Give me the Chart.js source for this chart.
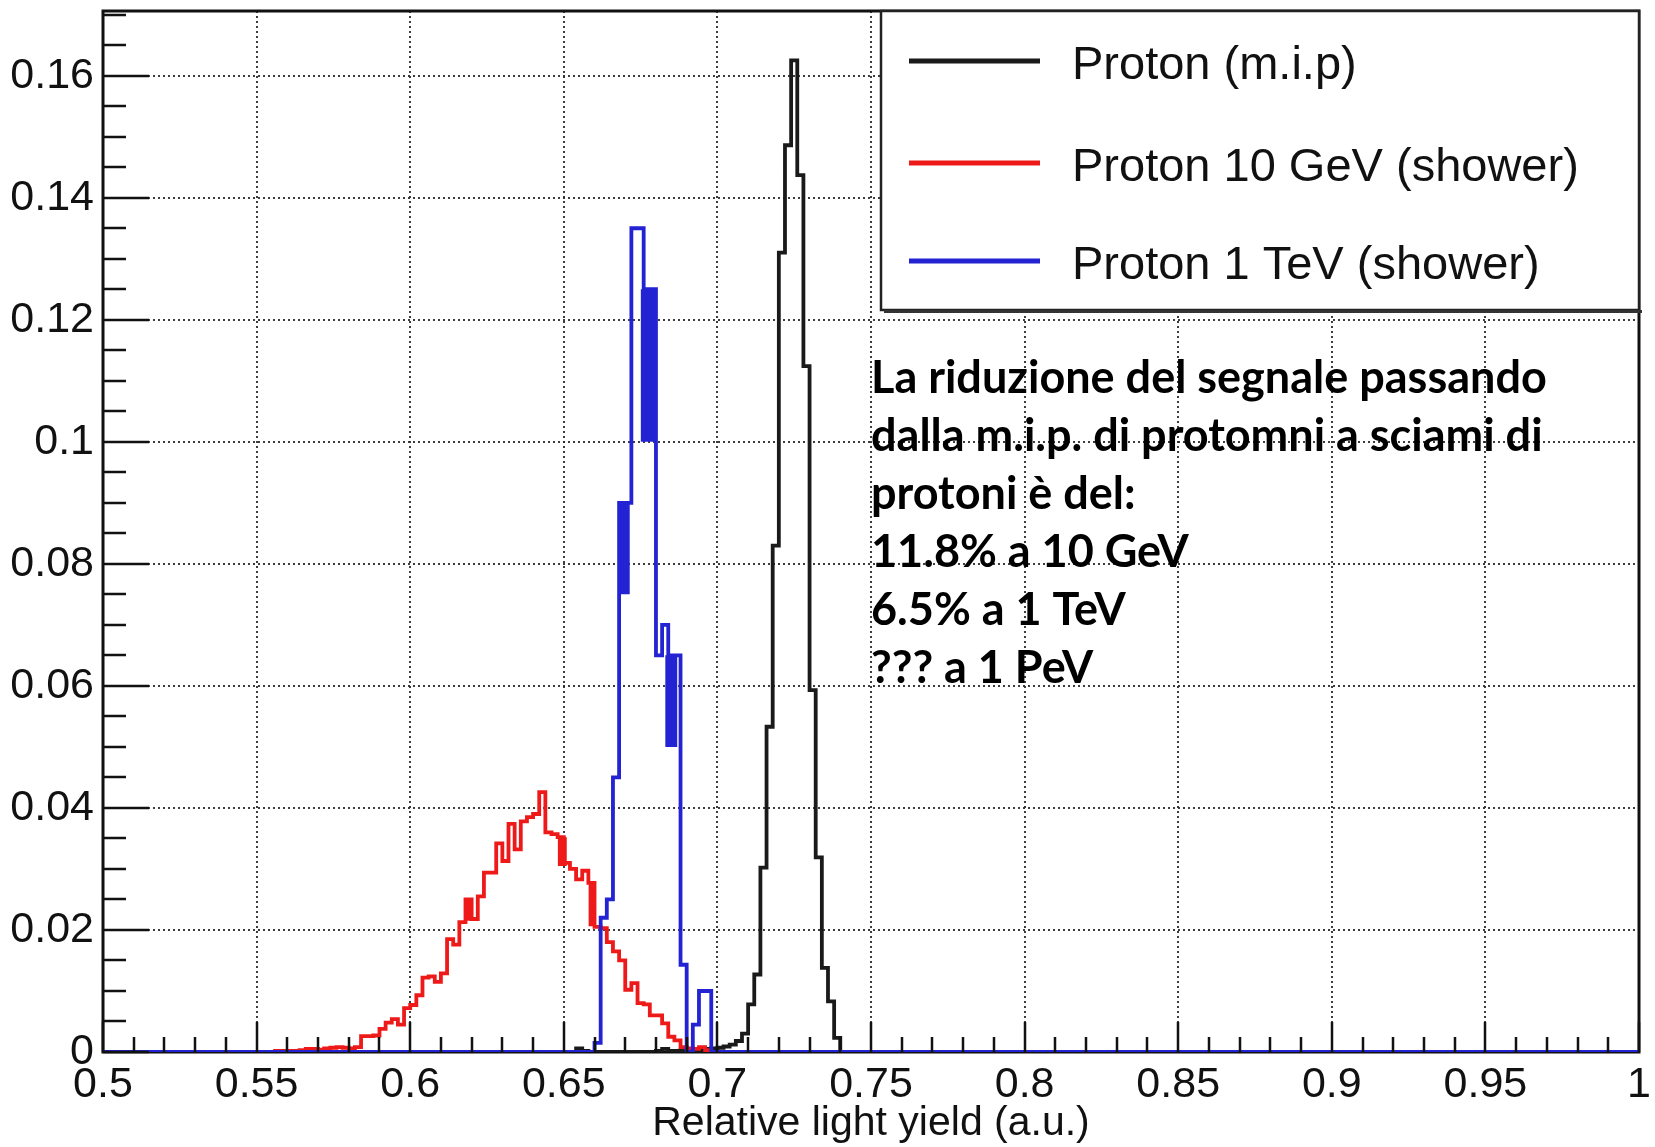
<!DOCTYPE html>
<html lang="it">
<head>
<meta charset="UTF-8">
<title>Relative light yield</title>
<script src="https://cdn.jsdelivr.net/npm/chart.js@4.4.1/dist/chart.umd.min.js"></script>
<style>
html, body { margin: 0; padding: 0; background: #fff; }
#lightYield { display: block; }
</style>
</head>
<body>
<canvas id="lightYield" width="1655" height="1147"></canvas>
<script>
// all three histograms share the same binning
var binWidth = 0.002;
var xMin = 0.5, xMax = 1.0;
var yMin = 0, yMax = 0.1706;

// proton m.i.p., first bin starts at 0.654
var mipStart = 0.654;
var mipValues = [
  0.0006, 0.0002, 0, 0, 0, 0, 0, 0, 0, 0, 0, 0, 0,
  0.0002, 0.0005, 0.0002, 0.0002, 0.0003, 0.0002, 0.0003, 0.0004, 0.0005, 0.0006,
  0.0007, 0.0009, 0.0012, 0.0018, 0.0030, 0.0078, 0.0127, 0.0302, 0.0533, 0.0830,
  0.1310, 0.1486, 0.1625, 0.1437, 0.1124, 0.0593, 0.0319, 0.0138, 0.0083, 0.0023
];

// proton 10 GeV shower, first bin starts at 0.556
var gev10Start = 0.556;
var gev10Values = [
  0.0002, 0.0002, 0.0002, 0.0002, 0.0003, 0.0005, 0.0005, 0.0004, 0.0006, 0.0007,
  0.0008, 0.0007, 0.0006, 0.0008, 0.0026, 0.0026, 0.0027, 0.0038, 0.0048, 0.0054,
  0.0045, 0.0072, 0.0077, 0.0093, 0.0122, 0.0124, 0.0115, 0.0129, 0.0185, 0.0176,
  0.0213, 0.0250, 0.0218, 0.0255, 0.0294, 0.0294, 0.0342, 0.0313, 0.0374, 0.0332,
  0.0378, 0.0385, 0.0390, 0.0426, 0.0360, 0.0357, 0.0352, 0.0310, 0.0300, 0.0283,
  0.0297, 0.0277, 0.0205, 0.0203, 0.0180, 0.0165, 0.0150, 0.0102, 0.0113, 0.0080,
  0.0078, 0.0060, 0.0060, 0.0047, 0.0025, 0.0019, 0.0008, 0.0006, 0.0005, 0.0008,
  0.0003
];

// proton 1 TeV shower, first bin starts at 0.660
var tev1Start = 0.660;
var tev1Values = [
  0.0015, 0.022, 0.025, 0.045, 0.090, 0.090, 0.135, 0.135, 0.125, 0.125,
  0.065, 0.070, 0.065, 0.065, 0.0143, 0, 0.0045, 0.010, 0.010
];

// dense filled stretches of the outlines: [from, to, low, high]
var gev10Blocks = [
  [0.618, 0.620, 0.0215, 0.0250],
  [0.648, 0.651, 0.0305, 0.0352],
  [0.658, 0.660, 0.0206, 0.0277]
];
var tev1Blocks = [
  [0.668, 0.6715, 0.075, 0.090],
  [0.675, 0.680, 0.1000, 0.125],
  [0.683, 0.687, 0.050, 0.065]
];

var seriesLabels = ['Proton (m.i.p)', 'Proton 10 GeV (shower)', 'Proton 1 TeV (shower)'];
var seriesColors = ['#1a1a1a', '#ee1a1a', '#2323d4'];

var xTicks = [0.5, 0.55, 0.6, 0.65, 0.7, 0.75, 0.8, 0.85, 0.9, 0.95, 1];
var xTickLabels = ['0.5', '0.55', '0.6', '0.65', '0.7', '0.75', '0.8', '0.85', '0.9', '0.95', '1'];
var yTicks = [0, 0.02, 0.04, 0.06, 0.08, 0.1, 0.12, 0.14, 0.16];
var yTickLabels = ['0', '0.02', '0.04', '0.06', '0.08', '0.1', '0.12', '0.14', '0.16'];
var xMinorStep = 0.01;
var yMinorStep = 0.005;
var xTitle = 'Relative light yield (a.u.)';

var noteLines = [
  'La riduzione del segnale passando',
  'dalla m.i.p. di protomni a sciami di',
  'protoni è del:',
  '11.8% a 10 GeV',
  '6.5% a 1 TeV',
  '??? a 1 PeV'
];

// turn bins into step points running over the whole x range
function histogramPoints(start, values) {
  var pts = [{x: xMin, y: 0}];
  for (var i = 0; i < values.length; i++) {
    pts.push({x: start + i * binWidth, y: values[i]});
  }
  pts.push({x: start + values.length * binWidth, y: 0});
  pts.push({x: xMax, y: 0});
  return pts;
}

var datasets = [];

function addHistogram(label, start, values, color, order) {
  datasets.push({
    label: label,
    data: histogramPoints(start, values),
    borderColor: color,
    borderWidth: 3.8,
    stepped: true,
    fill: false,
    pointRadius: 0,
    borderJoinStyle: 'miter',
    order: order
  });
}

// each block is a low edge plus a high edge filled down to it
function addBlocks(blocks, color, order) {
  blocks.forEach(function (b) {
    datasets.push({
      data: [{x: b[0], y: b[2]}, {x: b[1], y: b[2]}],
      borderColor: 'rgba(0,0,0,0)', borderWidth: 1, pointRadius: 0, fill: false, order: order
    });
    datasets.push({
      data: [{x: b[0], y: b[3]}, {x: b[1], y: b[3]}],
      borderColor: 'rgba(0,0,0,0)', borderWidth: 1, pointRadius: 0,
      fill: '-1', backgroundColor: color, order: order
    });
  });
}

addHistogram(seriesLabels[0], mipStart, mipValues, seriesColors[0], 4);
addHistogram(seriesLabels[1], gev10Start, gev10Values, seriesColors[1], 2);
addBlocks(gev10Blocks, seriesColors[1], 3);
addHistogram(seriesLabels[2], tev1Start, tev1Values, seriesColors[2], 0);
addBlocks(tev1Blocks, seriesColors[2], 1);

// frame, dotted grid, inward ticks, legend box and note text
var rootFrame = {
  id: 'rootFrame',
  beforeDatasetsDraw: function (chart) {
    var ctx = chart.ctx, a = chart.chartArea;
    var xs = chart.scales.x, ys = chart.scales.y;
    ctx.save();
    ctx.strokeStyle = 'rgba(40,40,40,0.9)';
    ctx.lineWidth = 2;
    ctx.setLineDash([2, 3]);
    xTicks.forEach(function (v) {
      if (v <= xMin || v >= xMax) return;
      var px = Math.round(xs.getPixelForValue(v));
      ctx.beginPath();
      ctx.moveTo(px, a.top);
      ctx.lineTo(px, a.bottom);
      ctx.stroke();
    });
    yTicks.forEach(function (v) {
      if (v <= yMin) return;
      var py = Math.round(ys.getPixelForValue(v));
      ctx.beginPath();
      ctx.moveTo(a.left, py);
      ctx.lineTo(a.right, py);
      ctx.stroke();
    });
    ctx.setLineDash([]);
    ctx.strokeStyle = '#111';
    ctx.lineWidth = 3;
    ctx.strokeRect(a.left, a.top, a.right - a.left, a.bottom - a.top);
    ctx.restore();
  },
  afterDatasetsDraw: function (chart) {
    var ctx = chart.ctx, a = chart.chartArea;
    var xs = chart.scales.x, ys = chart.scales.y;
    var i, v, major;
    ctx.save();

    // ticks pointing into the frame
    ctx.strokeStyle = '#111';
    ctx.lineWidth = 2.5;
    ctx.beginPath();
    for (i = 0; yMin + i * yMinorStep <= yMax; i++) {
      v = yMin + i * yMinorStep;
      major = yTicks.some(function (t) { return Math.abs(t - v) < 1e-9; });
      var py = Math.round(ys.getPixelForValue(v));
      ctx.moveTo(a.left, py);
      ctx.lineTo(a.left + (major ? 46 : 23), py);
    }
    for (i = 0; xMin + i * xMinorStep <= xMax + 1e-9; i++) {
      v = xMin + i * xMinorStep;
      major = xTicks.some(function (t) { return Math.abs(t - v) < 1e-9; });
      var px = Math.round(xs.getPixelForValue(v));
      ctx.moveTo(px, a.bottom);
      ctx.lineTo(px, a.bottom - (major ? 30 : 15));
    }
    ctx.stroke();

    // tick labels and axis title
    ctx.fillStyle = '#111';
    ctx.font = '43px "Liberation Sans", Arial, sans-serif';
    ctx.textAlign = 'right';
    ctx.textBaseline = 'middle';
    yTicks.forEach(function (t, k) {
      ctx.fillText(yTickLabels[k], a.left - 9, ys.getPixelForValue(t));
    });
    ctx.textAlign = 'center';
    xTicks.forEach(function (t, k) {
      ctx.fillText(xTickLabels[k], xs.getPixelForValue(t), a.bottom + 33);
    });
    ctx.font = '41px "Liberation Sans", Arial, sans-serif';
    ctx.fillText(xTitle, (a.left + a.right) / 2, a.bottom + 72);

    // legend box in the top right corner
    var lx0 = 881, ly0 = a.top, lx1 = a.right, ly1 = 310;
    ctx.fillStyle = '#fff';
    ctx.fillRect(lx0, ly0, lx1 - lx0, ly1 - ly0);
    ctx.strokeStyle = '#222';
    ctx.lineWidth = 2.5;
    ctx.strokeRect(lx0, ly0, lx1 - lx0, ly1 - ly0);
    ctx.fillStyle = '#333';
    ctx.fillRect(lx0 + 3, ly1, lx1 - lx0, 3);
    var rows = [63, 165, 263];
    ctx.font = '47px "Liberation Sans", Arial, sans-serif';
    ctx.textAlign = 'left';
    ctx.textBaseline = 'middle';
    seriesLabels.forEach(function (lab, k) {
      ctx.strokeStyle = seriesColors[k];
      ctx.lineWidth = 5;
      ctx.beginPath();
      ctx.moveTo(909, rows[k] - 2);
      ctx.lineTo(1040, rows[k] - 2);
      ctx.stroke();
      ctx.fillStyle = '#111';
      ctx.fillText(lab, 1072, rows[k] + 3);
    });

    // note written over the plot
    ctx.fillStyle = '#000';
    ctx.font = 'bold 45px Lato, "Liberation Sans", sans-serif';
    ctx.textBaseline = 'alphabetic';
    noteLines.forEach(function (line, k) {
      ctx.fillText(line, 871, 393 + 58 * k);
    });
    ctx.restore();
  }
};

var yieldChart = new Chart(document.getElementById('lightYield').getContext('2d'), {
  type: 'line',
  data: { datasets: datasets },
  options: {
    responsive: false,
    animation: false,
    devicePixelRatio: 1,
    layout: { padding: { left: 103, top: 11, right: 16, bottom: 95 } },
    plugins: {
      legend: { display: false },
      tooltip: { enabled: false }
    },
    scales: {
      x: { type: 'linear', min: xMin, max: xMax, display: false },
      y: { type: 'linear', min: yMin, max: yMax, display: false }
    }
  },
  plugins: [rootFrame]
});
</script>
</body>
</html>
